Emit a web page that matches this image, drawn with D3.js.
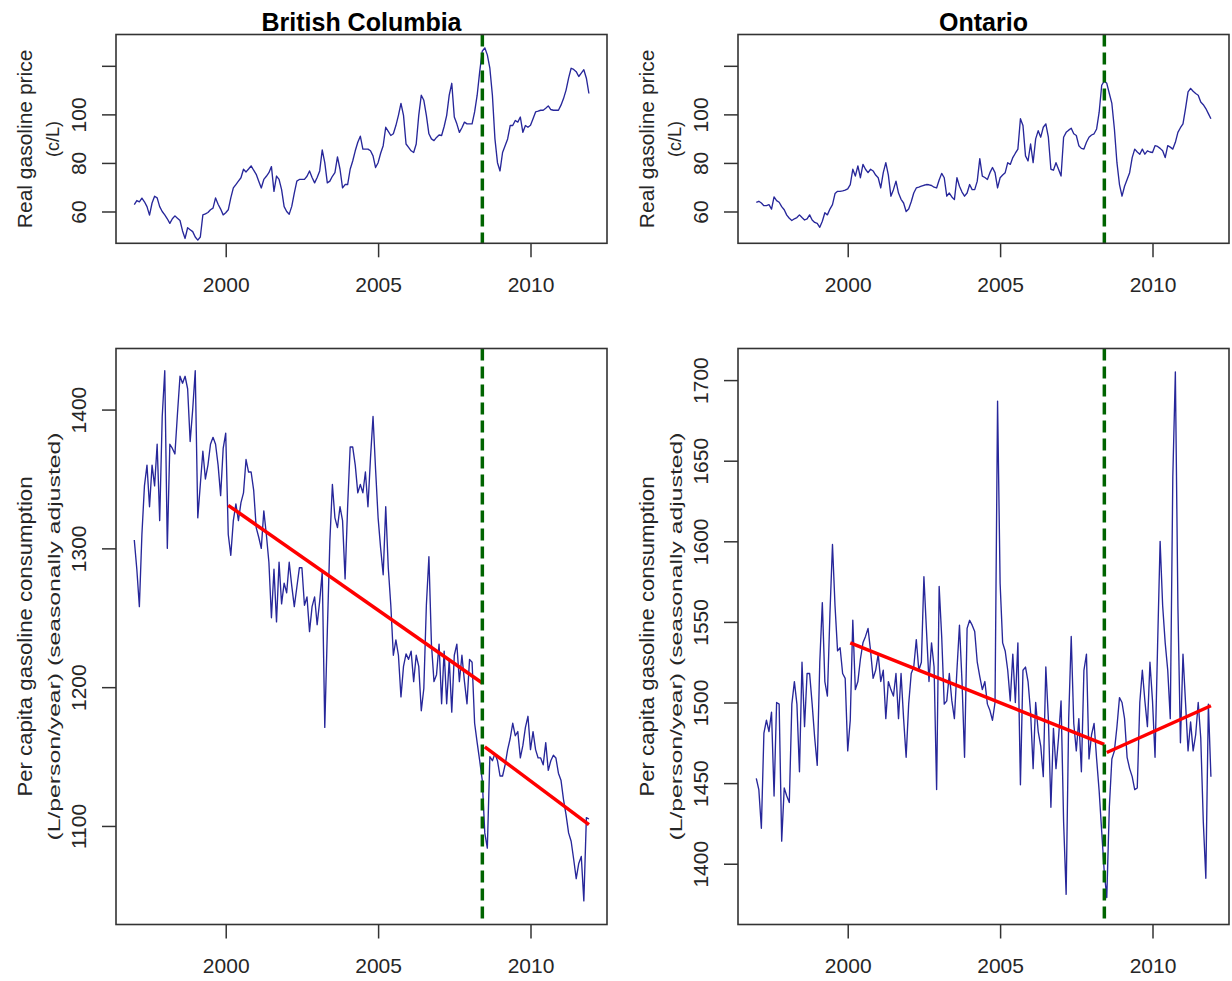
<!DOCTYPE html>
<html>
<head>
<meta charset="utf-8">
<script src="https://cdnjs.cloudflare.com/ajax/libs/d3/7.8.5/d3.min.js"></script>
<style>
  body { margin: 0; background: #fff; }
  svg { display: block; font-family: "Liberation Sans", Arial, sans-serif; }
</style>
</head>
<body>
<div id="chart"></div>
<script>
// monthly series, Jan 1997 .. Dec 2011
var startYear = 1997;

var bcPrice = [
  62.8, 64.5, 64, 65.5, 64, 62, 58.5, 63.5, 66.3, 65.6,
  62, 60, 58.6, 57, 55.1, 57, 58.2, 57.2, 56.3, 52,
  48.9, 53.3, 52.5, 51.7, 49.5, 48.2, 49.5, 58.6, 59, 59.6,
  60.7, 61.4, 65.6, 63, 61, 58.6, 59.5, 60.7, 65.6, 69.7,
  71.1, 72.5, 73.9, 77.4, 76.3, 77.5, 78.8, 77, 75.3, 72.5,
  69.7, 73.2, 74.5, 76, 78.5, 68.3, 74.6, 73.2, 69, 62,
  60, 58.9, 62.1, 67.6, 72.5, 73.2, 73.2, 73.2, 74.5, 76.7,
  74, 71.8, 74, 76.7, 85.4, 80.1, 71.8, 72.5, 74.5, 76,
  82.5, 77.4, 69.7, 71.1, 71.1, 77.4, 80.8, 85, 88.5, 91,
  85.7, 85.7, 85.7, 85, 82.9, 78.1, 80.1, 84, 87.1, 94.7,
  93, 91.3, 92, 95.4, 99.6, 104.5, 99.6, 87.8, 86.4, 85,
  84.3, 87.8, 99.6, 107.9, 105.8, 99.6, 92, 89.9, 89.2, 90.5,
  91.5, 91.3, 95, 99.6, 107.9, 112.8, 98.9, 96.1, 92.6, 94.5,
  96.8, 96.1, 96.1, 96.1, 101, 107.9, 117.6, 126, 127.4, 124.5,
  119, 107.9, 89.9, 80.1, 76.7, 84.3, 87.1, 89.9, 95.4, 95.4,
  97.5, 96.8, 98.9, 92.6, 95.4, 94.7, 95.5, 98.2, 101, 101.3,
  101.7, 101.7, 102.5, 103.5, 102, 101.7, 101.7, 101.7, 103.8, 106.5,
  110, 114.9, 119, 118.5, 117.6, 115.6, 117, 118.4, 114.9, 108.6
];

var onPrice = [
  63.75, 64.2, 63.5, 62.4, 62.4, 62.8, 61, 66, 64.5, 63.8,
  62, 60.7, 58.5, 57.2, 56.3, 57, 57.5, 58.6, 57.5, 56.5,
  57, 58.6, 56.5, 55.5, 55.1, 53.5, 56, 59.5, 58.6, 61,
  62.8, 67.4, 68.3, 68.3, 68.5, 68.8, 69.3, 71.1, 77.4, 74.6,
  78.8, 73.9, 79.4, 77.4, 76, 77.4, 76.7, 75, 73.9, 69.7,
  76, 80.1, 75, 66.3, 69, 72.5, 67.6, 65, 63.5, 60,
  61, 64, 67.6, 69.7, 70, 70.4, 70.8, 71.1, 71, 70.7,
  70, 69.7, 73, 75.7, 73.9, 66.3, 67.6, 66, 64.9, 73.9,
  70.4, 68, 66.3, 67.6, 71.1, 69, 69, 72.5, 81.8, 74.6,
  74, 73.2, 76, 78.1, 76, 69.7, 73.9, 75, 76, 80.1,
  79.4, 82.2, 84, 85.7, 98.2, 95.4, 82.9, 80.8, 87.8, 80.1,
  89.9, 93.3, 90.6, 94.7, 96.1, 90.6, 77.4, 77, 80.1, 77.4,
  74.6, 90.6, 92.6, 93.5, 94.3, 92, 91.3, 87.1, 86, 85.7,
  88.5, 90.6, 91.5, 92, 94, 100.9, 112, 113.7, 112.8, 108.6,
  104.5, 94, 80.1, 71.1, 66.3, 70.4, 73.2, 76, 82.2, 85.7,
  84.5, 83.6, 85.7, 83.6, 85, 84.5, 84.3, 87.1, 86.8, 86,
  85, 82.2, 87.1, 86.5, 85.7, 88.5, 92.6, 94.5, 96.1, 102.4,
  109.3, 110.7, 109.5, 108.6, 107.9, 105.1, 104, 102.4, 100.3, 98.2
];

var bcCons = [
  1306, 1285, 1258, 1310, 1345, 1360, 1330, 1360, 1345, 1375,
  1320, 1395, 1428, 1300, 1375, 1372, 1368, 1397, 1424, 1419,
  1424, 1415, 1377, 1400, 1428, 1322, 1346, 1370, 1350, 1360,
  1375, 1380, 1375, 1360, 1338, 1372, 1383, 1310, 1295, 1320,
  1332, 1320, 1333, 1340, 1364, 1355, 1355, 1342, 1315, 1308,
  1300, 1327, 1310, 1290, 1250, 1285, 1247, 1290, 1260, 1275,
  1268, 1290, 1273, 1258, 1272, 1286, 1286, 1259, 1265, 1240,
  1258, 1265, 1245, 1262, 1283, 1171, 1240, 1305, 1346, 1322,
  1315, 1330, 1320, 1278, 1330, 1373, 1373, 1360, 1340, 1346,
  1340, 1355, 1330, 1365, 1395, 1357, 1322, 1300, 1281, 1330,
  1286, 1259, 1223, 1234, 1223, 1193, 1215, 1224, 1220, 1226,
  1204, 1223, 1215, 1183, 1199, 1259, 1294, 1231, 1204, 1209,
  1231, 1188, 1226, 1188, 1220, 1182, 1223, 1231, 1204, 1223,
  1204, 1188, 1220, 1218, 1174, 1160, 1147, 1133, 1095, 1084,
  1150, 1147, 1152, 1147, 1136, 1136, 1144, 1155, 1163, 1174,
  1165, 1168, 1149, 1158, 1171, 1179, 1155, 1168, 1155, 1149,
  1149, 1144, 1160, 1140, 1147, 1151, 1149, 1138, 1133, 1119,
  1108, 1095, 1089, 1076, 1062, 1073, 1078, 1046, 1106, 1105
];

var onCons = [
  1453, 1446, 1422, 1481, 1489, 1482, 1494, 1442, 1500, 1499,
  1414, 1447, 1442, 1438, 1499, 1513, 1499, 1457, 1525, 1485,
  1518, 1518, 1499, 1478, 1461, 1525, 1562, 1513, 1504, 1555,
  1598, 1560, 1532, 1534, 1518, 1515, 1470, 1489, 1551, 1508,
  1513, 1527, 1537, 1541, 1546, 1532, 1515, 1520, 1530, 1513,
  1520, 1490, 1513, 1508, 1504, 1518, 1490, 1518, 1490, 1466,
  1499, 1518, 1522, 1539, 1520, 1525, 1578, 1545, 1513, 1537,
  1522, 1446, 1572, 1541, 1499, 1501, 1518, 1501, 1490, 1520,
  1548, 1513, 1466, 1546, 1551, 1548, 1544, 1525, 1516, 1508,
  1513, 1499, 1495, 1489, 1500, 1687, 1574, 1537, 1532, 1520,
  1501, 1530, 1500, 1537, 1449, 1520, 1522, 1513, 1494, 1459,
  1500, 1482, 1473, 1454, 1522, 1490, 1435, 1484, 1459, 1478,
  1501, 1426, 1381, 1490, 1541, 1487, 1470, 1490, 1457, 1520,
  1530, 1465, 1480, 1487, 1465, 1445, 1420, 1395, 1379, 1435,
  1465, 1470, 1485, 1503, 1500, 1490, 1466, 1459, 1454, 1446,
  1447, 1500, 1520, 1501, 1485, 1525, 1501, 1466, 1535, 1600,
  1560, 1537, 1520, 1490, 1640, 1705, 1560, 1475, 1530, 1500,
  1470, 1488, 1470, 1480, 1500, 1478, 1426, 1391, 1499, 1454
];

// fitted trend segments before / after the policy date
var bcTrend = [
  [{t: 2000.083, v: 1331}, {t: 2008.417, v: 1203}],
  [{t: 2008.5, v: 1157}, {t: 2011.917, v: 1101}]
];
var onTrend = [
  [{t: 2000.083, v: 1537}, {t: 2008.417, v: 1474}],
  [{t: 2008.5, v: 1469}, {t: 2011.917, v: 1498}]
];
var policyDate = 2008.42;

var regions = ["British Columbia", "Ontario"];
var yearTicks = [2000, 2005, 2010];
var xDomain = [1996.40, 2012.51];

var priceDomain = [46.9, 132.9];
var priceTicks = [60, 80, 100, 120];
var priceTickLabels = ["60", "80", "100", ""];

var bcConsDomain = [1029, 1444];
var bcConsTicks = [1100, 1200, 1300, 1400];
var onConsDomain = [1362.3, 1719.6];
var onConsTicks = [1400, 1450, 1500, 1550, 1600, 1650, 1700];

var priceLab = ["Real gasoline price", "(c/L)"];
var consLab = ["Per capita gasoline consumption", "(L/person/year) (seasonally adjusted)"];

// layout
var W = 1232, H = 981;
var colLeft = [116, 738];
var plotW = 491;
var rows = [{top: 34.5, h: 208.8}, {top: 348.5, h: 576}];
var textCol = "#262626";

var svg = d3.select("#chart").append("svg")
  .attr("width", W)
  .attr("height", H);

function drawPanel(p) {
  var g = svg.append("g")
    .attr("transform", "translate(" + p.left + "," + p.top + ")");

  var x = d3.scaleLinear().domain(xDomain).range([0, plotW]);
  var y = d3.scaleLinear().domain(p.yDomain).range([p.height, 0]);

  var line = d3.line()
    .x((d, i) => x(startYear + i / 12))
    .y(d => y(d));

  g.append("path")
    .datum(p.values)
    .attr("d", line)
    .attr("fill", "none")
    .attr("stroke", "#27279a")
    .attr("stroke-width", 1.35)
    .attr("stroke-linejoin", "round");

  if (p.trend) {
    var tline = d3.line().x(d => x(d.t)).y(d => y(d.v));
    g.selectAll(".trend").data(p.trend).enter().append("path")
      .attr("class", "trend")
      .attr("d", tline)
      .attr("fill", "none")
      .attr("stroke", "#ff0000")
      .attr("stroke-width", 3.5);
  }

  // policy date
  g.append("line")
    .attr("x1", x(policyDate)).attr("x2", x(policyDate))
    .attr("y1", 0).attr("y2", p.height)
    .attr("stroke", "#006400")
    .attr("stroke-width", 3.5)
    .attr("stroke-dasharray", "12,6");

  // axes
  var xAxis = d3.axisBottom(x).tickValues(yearTicks).tickFormat(d3.format("d")).tickSize(14);
  var gx = g.append("g").attr("transform", "translate(0," + p.height + ")").call(xAxis);
  gx.select(".domain").remove();
  gx.selectAll(".tick line").attr("stroke", "#333").attr("stroke-width", 1.5);
  gx.selectAll(".tick text")
    .attr("y", 48.7).attr("dy", 0)
    .attr("fill", textCol)
    .style("font-size", "21px");

  var yAxis = d3.axisLeft(y).tickValues(p.yTicks).tickSize(14)
    .tickFormat((d, i) => p.yLabels ? p.yLabels[i] : d);
  var gy = g.append("g").call(yAxis);
  gy.select(".domain").remove();
  gy.selectAll(".tick line").attr("stroke", "#333").attr("stroke-width", 1.5);
  gy.selectAll(".tick text")
    .attr("x", 0).attr("dy", 0)
    .attr("transform", "translate(-30,0) rotate(-90)")
    .attr("text-anchor", "middle")
    .attr("fill", textCol)
    .style("font-size", "21px");

  // frame
  g.append("rect")
    .attr("width", plotW).attr("height", p.height)
    .attr("fill", "none")
    .attr("stroke", "#333")
    .attr("stroke-width", 1.6);

  // y label, two lines
  var l1 = g.append("text")
    .attr("transform", "translate(-84.5," + p.height / 2 + ") rotate(-90)")
    .attr("text-anchor", "middle")
    .attr("fill", textCol)
    .style("font-size", "21px")
    .text(p.ylab[0]);
  var l2 = g.append("text")
    .attr("transform", "translate(" + p.lab2x + "," + p.height / 2 + ") rotate(-90)")
    .attr("text-anchor", "middle")
    .attr("fill", textCol)
    .style("font-size", p.lab2size + "px")
    .text(p.ylab[1]);
  if (p.labLen) {
    l1.attr("textLength", p.labLen[0]).attr("lengthAdjust", "spacingAndGlyphs");
    l2.attr("textLength", p.labLen[1]).attr("lengthAdjust", "spacingAndGlyphs");
  }

  if (p.title) {
    g.append("text")
      .attr("x", plotW / 2).attr("y", 31 - p.top)
      .attr("text-anchor", "middle")
      .attr("fill", "#000")
      .style("font-size", "25px")
      .style("font-weight", "bold")
      .text(p.title);
  }
}

var prices = [bcPrice, onPrice];
var cons = [bcCons, onCons];
var consDomains = [bcConsDomain, onConsDomain];
var consTicks = [bcConsTicks, onConsTicks];
var trends = [bcTrend, onTrend];

regions.forEach(function(name, c) {
  drawPanel({
    left: colLeft[c], top: rows[0].top, height: rows[0].h,
    values: prices[c], yDomain: priceDomain,
    yTicks: priceTicks, yLabels: priceTickLabels,
    ylab: priceLab, lab2x: -57, lab2size: 18,
    title: name
  });
  drawPanel({
    left: colLeft[c], top: rows[1].top, height: rows[1].h,
    values: cons[c], yDomain: consDomains[c],
    yTicks: consTicks[c], yLabels: null,
    trend: trends[c],
    ylab: consLab, lab2x: -56, lab2size: 17,
    labLen: [320, 408]
  });
});
</script>
</body>
</html>
